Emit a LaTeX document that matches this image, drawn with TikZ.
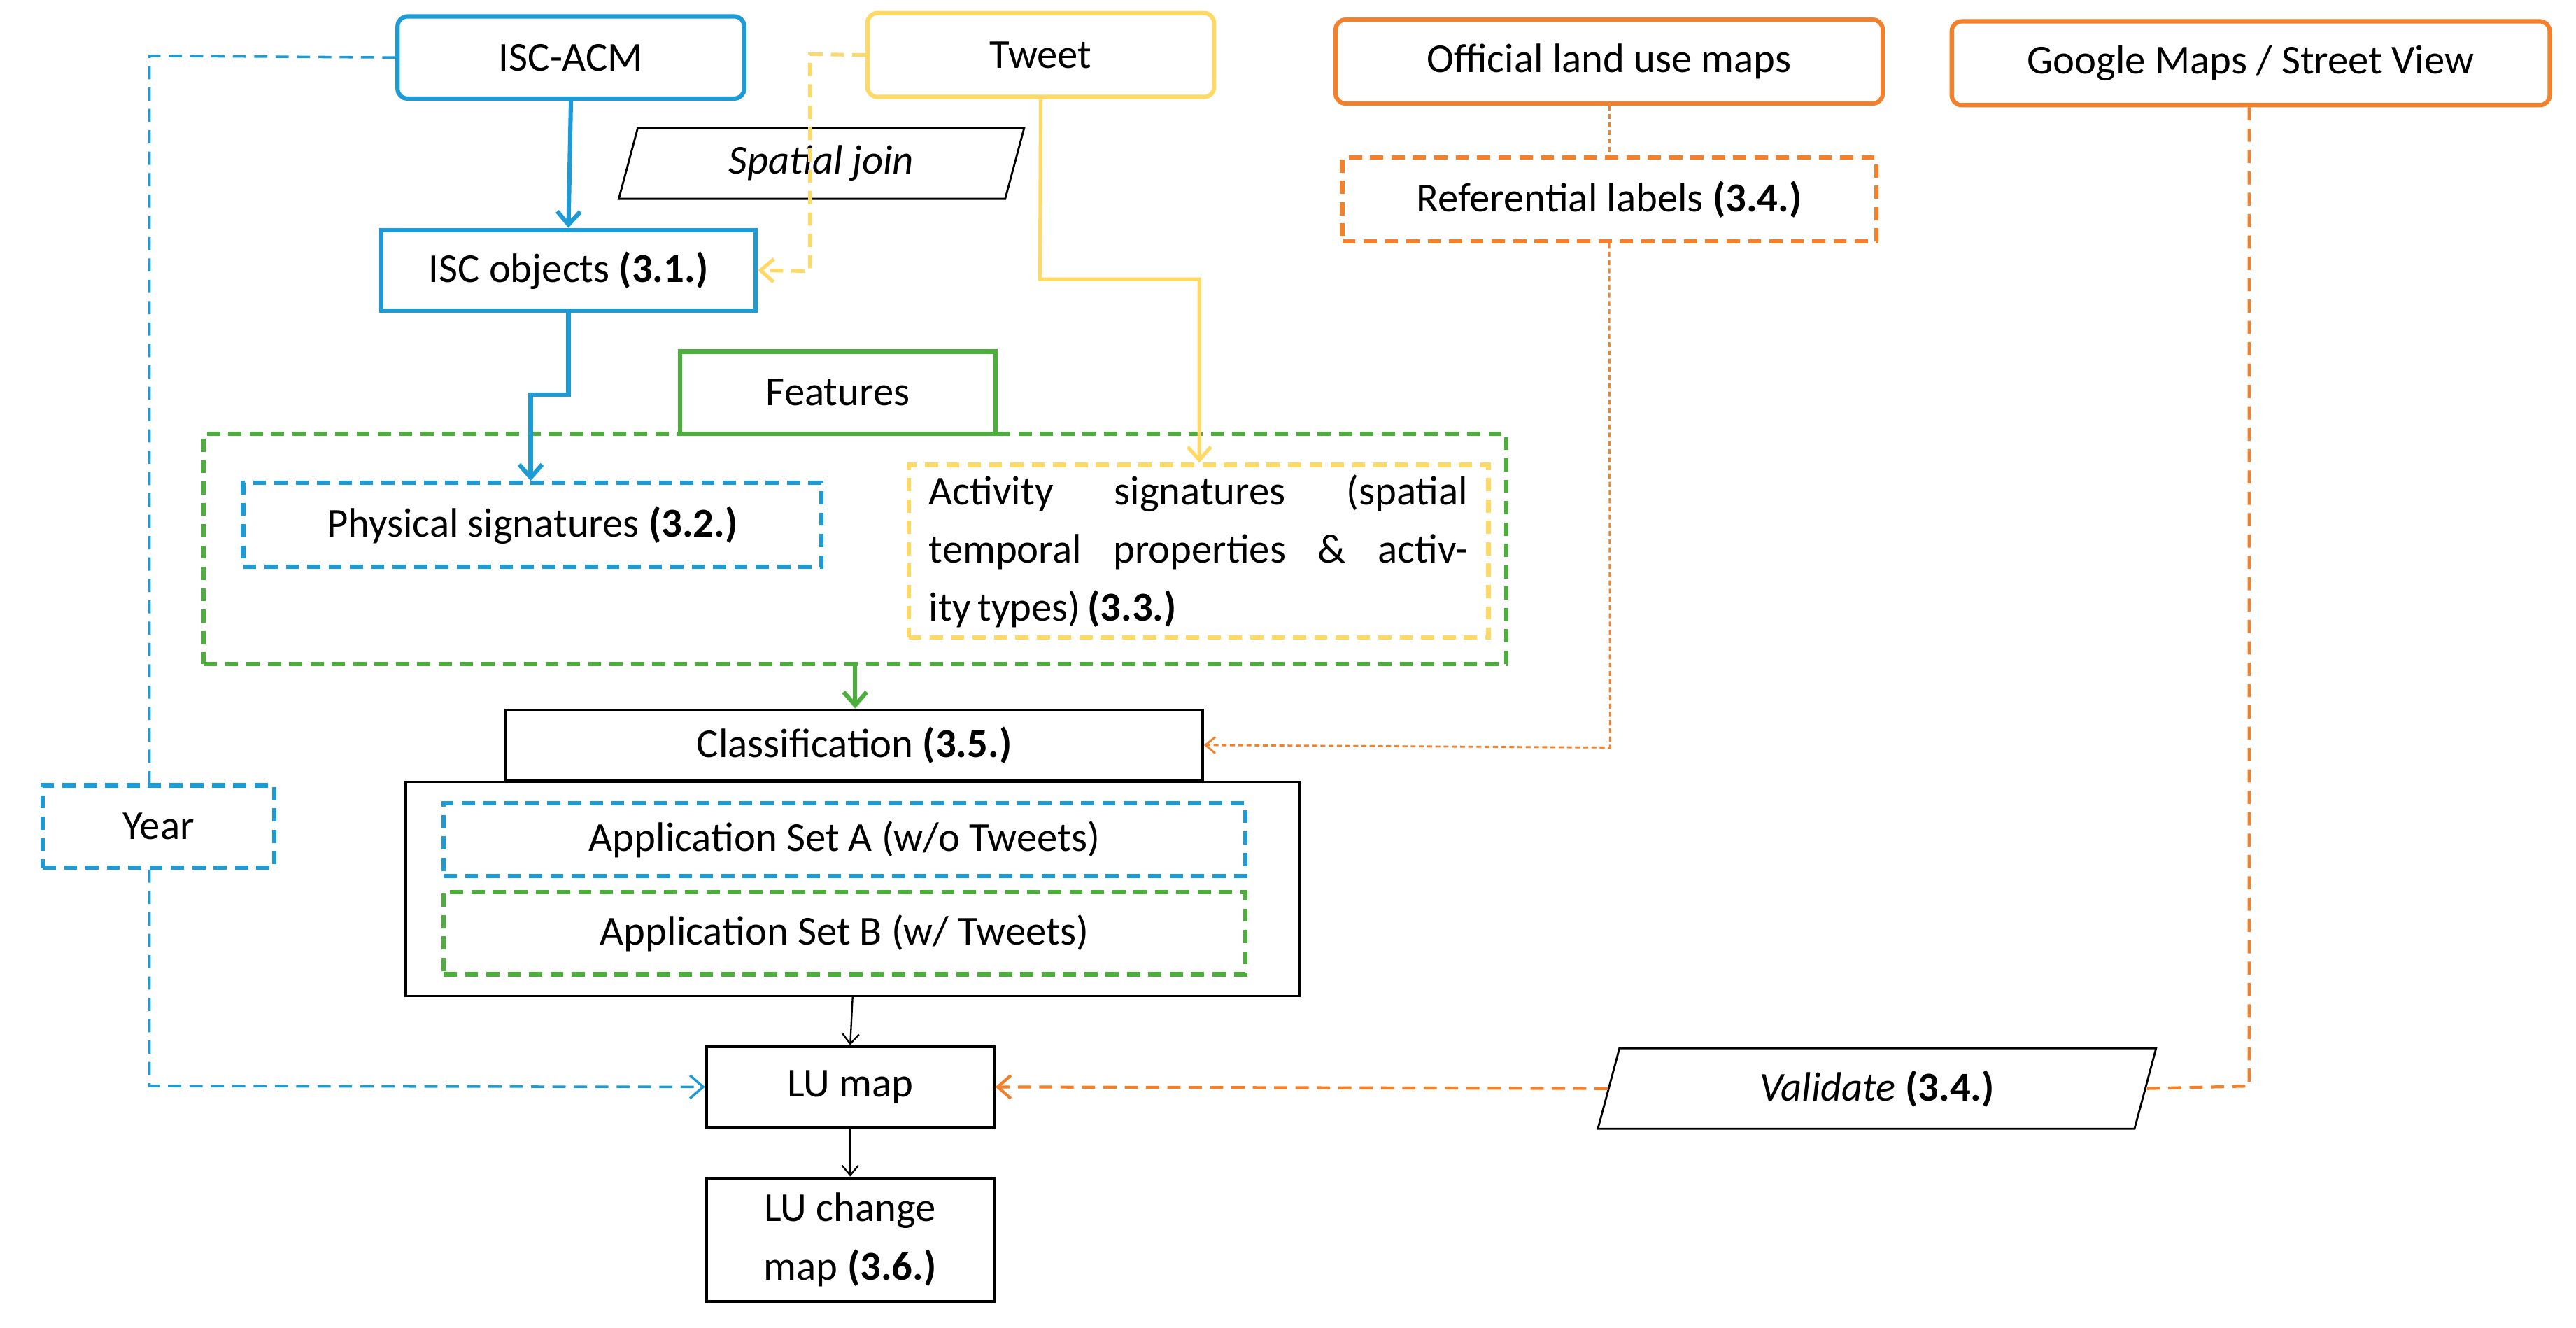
\documentclass[tikz,border=0pt]{standalone}
\usepackage{fontspec}
\setmainfont{Carlito}
\usetikzlibrary{shapes.geometric,arrows.meta}
\definecolor{cb}{RGB}{29,155,215}
\definecolor{cy}{RGB}{255,217,102}
\definecolor{co}{RGB}{244,128,42}
\definecolor{cg}{RGB}{76,175,60}
\begin{document}
\begin{tikzpicture}[x=1pt,y=-1pt,font=\fontsize{25}{30}\selectfont,
  box/.style={draw,line width=2.6pt,inner sep=0pt,minimum width=#1},
  rbox/.style={box=#1,rounded corners=6pt},
  thinbox/.style={draw,line width=1.3pt,inner sep=0pt,minimum width=#1},
  para/.style={draw,line width=1.2pt,trapezium,trapezium left angle=75,trapezium right angle=105,inner sep=0pt,font=\fontsize{25}{30}\selectfont\itshape},
  dsh/.style={dash pattern=on 8pt off 5pt},
  dot/.style={dash pattern=on 3pt off 2pt},
  arr/.style={-{Straight Barb[length=8pt,width=14pt]}},
  sarr/.style={-{Straight Barb[length=6pt,width=10pt]}}]
\useasboundingbox (0,0) rectangle (1568,808);
\fill[white] (0,0) rectangle (1568,808);
% top sources
\node[rbox=211pt,minimum height=50pt,draw=cb] (acm) at (347.5,35) {ISC-ACM};
\node[rbox=211pt,minimum height=51pt,draw=cy] (tweet) at (633.5,33.5) {Tweet};
\node[rbox=333pt,minimum height=51pt,draw=co] (olu) at (979.5,37.5) {Official land use maps};
\node[rbox=364pt,minimum height=51pt,draw=co] (gm) at (1370,38.5) {Google Maps / Street View};
\node[para,minimum width=175pt,minimum height=43pt] (sj) at (500,99.5) {Spatial join};
\node[box=228pt,minimum height=49pt,draw=cb] (isc) at (346,164.5) {ISC objects \textbf{(3.1.)}};
\node[box=325pt,minimum height=51pt,draw=co,dsh] (ref) at (979.5,121.5) {Referential labels \textbf{(3.4.)}};
% features
\node[box=192pt,minimum height=50pt,draw=cg] (feat) at (510,239) {Features};
\node[box=793pt,minimum height=140pt,draw=cg,dsh] (fbox) at (520.5,334) {};
\node[box=352pt,minimum height=51pt,draw=cb,dsh] (phys) at (324,319.5) {Physical signatures \textbf{(3.2.)}};
\node[box=353pt,minimum height=105pt,draw=cy,dsh] (act) at (729.5,335.5) {};
\node[text width=328pt,align=justify,font=\fontsize{25}{35.5}\selectfont] (actt) at (729.5,335.5) {Activity signatures (spatial temporal properties \& activity\,types)\,\textbf{(3.3.)}};
% classification
\node[thinbox=424pt,minimum height=43pt,line width=1.6pt] (cls) at (520,453.5) {Classification \textbf{(3.5.)}};
\node[thinbox=544pt,minimum height=130pt] (outer) at (519,541) {};
\node[box=488pt,minimum height=44pt,draw=cb,dsh] (sa) at (514,511) {Application Set A (w/o Tweets)};
\node[box=488pt,minimum height=50pt,draw=cg,dsh] (sb) at (514,568) {Application Set B (w/ Tweets)};
\node[box=141pt,minimum height=50pt,draw=cb,dsh] (year) at (96.5,503) {Year};
\node[box=175pt,minimum height=49pt,draw=black,line width=1.8pt] (lu) at (517.5,661.5) {LU map};
\node[para,minimum width=228pt,minimum height=49pt] (val) at (1142.5,662.5) {Validate \textbf{\upshape(3.4.)}};
\node[box=175pt,minimum height=75pt,draw=black,line width=1.8pt,align=center,font=\fontsize{25}{36}\selectfont] (luc) at (517.5,754.5) {LU change\\map \textbf{(3.6.)}};
% connectors
\draw[cb,line width=2.6pt,arr] (acm.south) -- (isc.north);
\draw[cb,line width=2.6pt,arr] (isc.south) -- (346,240) -- (323,240) -- (phys.north -| 323,0);
\draw[cy,line width=2.2pt,arr] (tweet.south) -- (633,170) -- (730,170) -- (act.north -| 730,0);
\draw[cy,line width=2.2pt,dsh,arr] (tweet.west) -- (493,33) -- (493,165) -- (isc.east);
\draw[cb,line width=1.5pt,dsh] (acm.west) -- (91,34) -- (year.north -| 91,0);
\draw[cb,line width=1.5pt,dsh,arr] (year.south -| 91,0) -- (91,661) -- (lu.west);
\draw[co,line width=1.2pt,dot] (olu.south) -- (ref.north);
\draw[co,line width=1.2pt,dot,sarr] (ref.south) -- (980,455) -- (cls.east);
\draw[co,line width=1.8pt,dsh] (gm.south -| 1369,0) -- (1369,661) -- (val.east);
\draw[co,line width=1.8pt,dsh,arr] (val.west) -- (lu.east);
\draw[cg,line width=2.6pt,arr] (fbox.south) -- (cls.north -| fbox.south);
\draw[black,line width=1pt,sarr] (outer.south) -- (lu.north);
\draw[black,line width=1pt,sarr] (lu.south) -- (luc.north);
\end{tikzpicture}
\end{document}
